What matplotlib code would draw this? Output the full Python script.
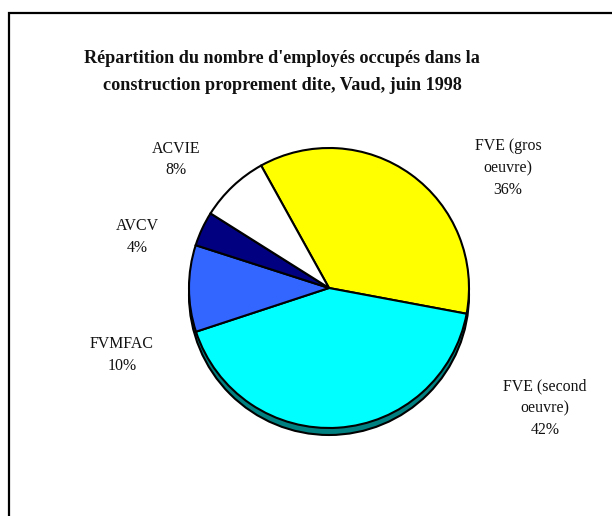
import matplotlib
matplotlib.use("Agg")
import matplotlib.pyplot as plt
from matplotlib.patches import Circle

# Data
categories = ["FVE (gros\noeuvre)", "FVE (second\noeuvre)", "FVMFAC", "AVCV", "ACVIE"]
values = [36, 42, 10, 4, 8]
colors = ["#FFFF00", "#00FFFF", "#3366FF", "#000080", "#FFFFFF"]
side_colors = ["#808000", "#008080", "#1A3380", "#000040", "#808080"]
title_lines = ["Répartition du nombre d'employés occupés dans la",
               "construction proprement dite, Vaud, juin 1998"]

W, H = 612, 516
fig = plt.figure(figsize=(W / 100, H / 100), dpi=100)
ax = fig.add_axes([0, 0, 1, 1])

cx, cy, r = 329, H - 288, 140
depth = 7
start = 119

# 3D side (shadow)
ax.pie(values, colors=side_colors, startangle=start, counterclock=False,
       center=(cx, cy - depth), radius=r, frame=True,
       wedgeprops=dict(linewidth=0, edgecolor="none"))
ax.add_patch(Circle((cx, cy - depth), r, fill=False, edgecolor="black", linewidth=1.5, zorder=2))

# Top face
wedges, _ = ax.pie(values, colors=colors, startangle=start, counterclock=False,
                   center=(cx, cy), radius=r, frame=True,
                   wedgeprops=dict(linewidth=1.5, edgecolor="black"))
for w in wedges:
    w.set_zorder(3)

ax.set_xlim(0, W)
ax.set_ylim(0, H)
ax.axis("off")

# Labels: (x center, first baseline from top)
label_pos = [(508, 150.5), (545, 390.5), (122, 348), (137, 230), (176, 153)]
line_gap = 21.5
for cat, v, (x, y0) in zip(categories, values, label_pos):
    lines = cat.split("\n") + [f"{v}%"]
    for i, ln in enumerate(lines):
        ax.text(x, H - (y0 + i * line_gap), ln, ha="center", va="baseline",
                fontsize=11.4, family="Liberation Serif", color="#111111")

# Title
title_base = [62.7, 89.8]
for ln, yb in zip(title_lines, title_base):
    ax.text(282, H - yb, ln, ha="center", va="baseline", fontsize=13.1,
            family="Liberation Serif", fontweight="bold", color="#111111")

# Frame (partial, as in reference)
ax.plot([8.5, 8.5, W + 2], [-2, H - 12.5, H - 12.5], color="black", linewidth=1.6,
        solid_joinstyle="miter", clip_on=False)

fig.savefig("out.png", dpi=100)
